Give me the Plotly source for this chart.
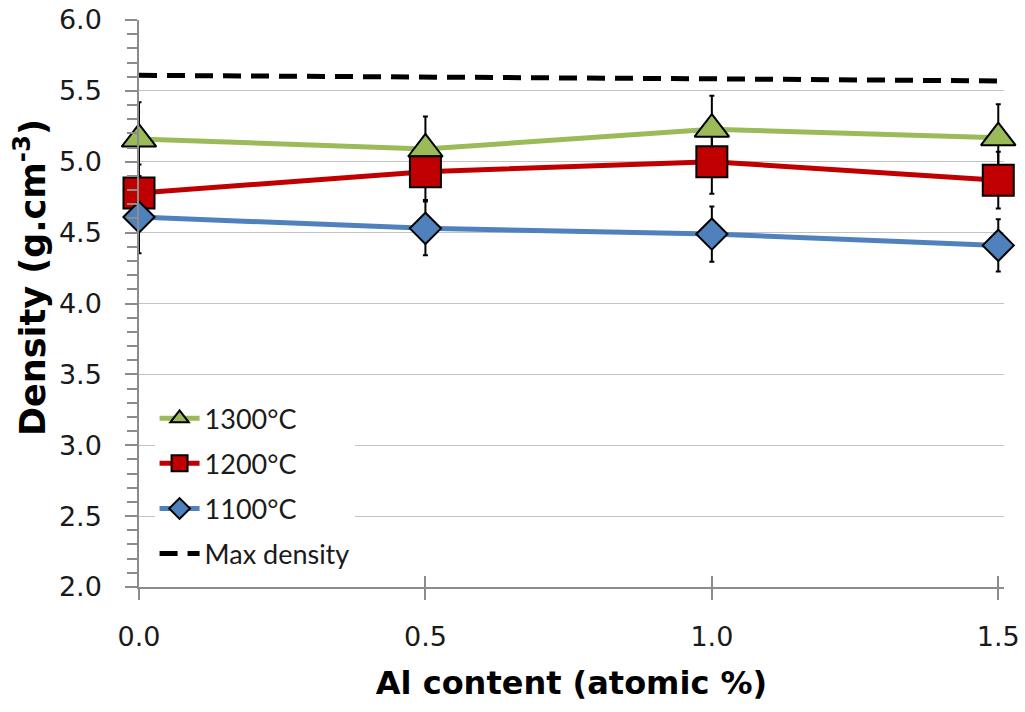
import plotly.graph_objects as go

# ---- data ----
al_content = [0.0, 0.5, 1.0, 1.5]
density_1300 = [5.16, 5.09, 5.23, 5.17]
err_1300 = [0.26, 0.23, 0.235, 0.235]
density_1200 = [4.78, 4.93, 5.00, 4.87]
err_1200 = [0.20, 0.20, 0.225, 0.20]
density_1100 = [4.61, 4.53, 4.49, 4.41]
err_1100 = [0.255, 0.19, 0.195, 0.185]
max_density = [5.61, 5.60, 5.585, 5.57]
x_ticks = [0.0, 0.5, 1.0, 1.5]
y_ticks = [2.0, 2.5, 3.0, 3.5, 4.0, 4.5, 5.0, 5.5, 6.0]

GREEN = "#9BBB59"
RED = "#C00000"
BLUE = "#4F81BD"
AXIS = "#8c8c8c"
GRID = "#c3c3c3"
TICK_FONT = dict(family="DejaVu Sans", size=27, color="#1a1a1a")
TITLE_FONT = dict(family="DejaVu Sans", size=32, color="#000000")

fig = go.Figure()

# error bars first so all markers sit on top of them
for vals, errs in [(density_1300, err_1300), (density_1200, err_1200), (density_1100, err_1100)]:
    fig.add_trace(go.Scatter(
        x=al_content, y=vals, mode="markers",
        marker=dict(size=1, opacity=0),
        error_y=dict(type="data", array=errs, color="black", thickness=2, width=2.5),
        showlegend=False, hoverinfo="skip", cliponaxis=False,
    ))

series = [
    ("1300°C", density_1300, GREEN, "triangle-up", 30),
    ("1200°C", density_1200, RED, "square", 31),
    ("1100°C", density_1100, BLUE, "diamond", 24),
]
for name, vals, col, sym, sz in series:
    fig.add_trace(go.Scatter(
        x=al_content, y=vals, name=name, mode="lines+markers",
        line=dict(color=col, width=5),
        marker=dict(symbol=sym, size=sz, color=col, line=dict(color="black", width=2)),
        legendgroup=name, cliponaxis=False,
    ))

fig.add_trace(go.Scatter(
    x=al_content, y=max_density, name="Max density", mode="lines",
    line=dict(color="black", width=5, dash="18px,10px"),
    legendgroup="max", cliponaxis=False,
))

# invisible trace for the inner half of the crossing x ticks
fig.add_trace(go.Scatter(
    x=al_content, y=max_density, xaxis="x2", mode="none",
    showlegend=False, hoverinfo="skip",
))

fig.update_layout(
    width=1025, height=712,
    margin=dict(l=139, r=21, t=20, b=125),
    paper_bgcolor="white", plot_bgcolor="white",
    hovermode=False,
    xaxis=dict(
        range=[0, 1.51], tickvals=x_ticks, tickformat=".1f", automargin=False,
        ticks="outside", ticklen=11, tickwidth=1.5, tickcolor=AXIS,
        showline=True, linecolor=AXIS, linewidth=1.5,
        showgrid=False, zeroline=False,
        tickfont=TICK_FONT, ticklabelstandoff=14,
        title=dict(text="<b>Al content (atomic %)</b>", font=TITLE_FONT, standoff=20),
    ),
    xaxis2=dict(
        overlaying="x", side="bottom", range=[0, 1.51], tickvals=x_ticks, automargin=False,
        ticks="inside", ticklen=11, tickwidth=1.5, tickcolor=AXIS,
        showticklabels=False, showline=False, showgrid=False, zeroline=False,
    ),
    yaxis=dict(
        range=[2, 6], tickvals=y_ticks, tickformat=".1f", automargin=False,
        ticks="outside", ticklen=12, tickwidth=1.5, tickcolor=AXIS,
        minor=dict(dtick=0.1, ticks="outside", ticklen=10, tickwidth=1.5, tickcolor=AXIS, showgrid=False),
        showline=True, linecolor=AXIS, linewidth=1.5,
        showgrid=True, gridcolor=GRID, gridwidth=1.2, zeroline=False,
        tickfont=TICK_FONT, ticklabelstandoff=18,
    ),
    legend=dict(
        x=0.018, y=0.34, xanchor="left", yanchor="top",
        bgcolor="white", borderwidth=0,
        font=dict(family="Lato", size=27, color="#1a1a1a"),
        itemwidth=40, tracegroupgap=7, traceorder="grouped",
    ),
    annotations=[dict(
        text="<b>Density (g.cm<sup>-3</sup>)</b>", textangle=-90,
        xref="paper", yref="paper", x=-0.126, y=0.545,
        xanchor="center", yanchor="middle", showarrow=False,
        font=dict(family="DejaVu Sans", size=35, color="#000000"),
    )],
)

fig.write_html("out.html")
